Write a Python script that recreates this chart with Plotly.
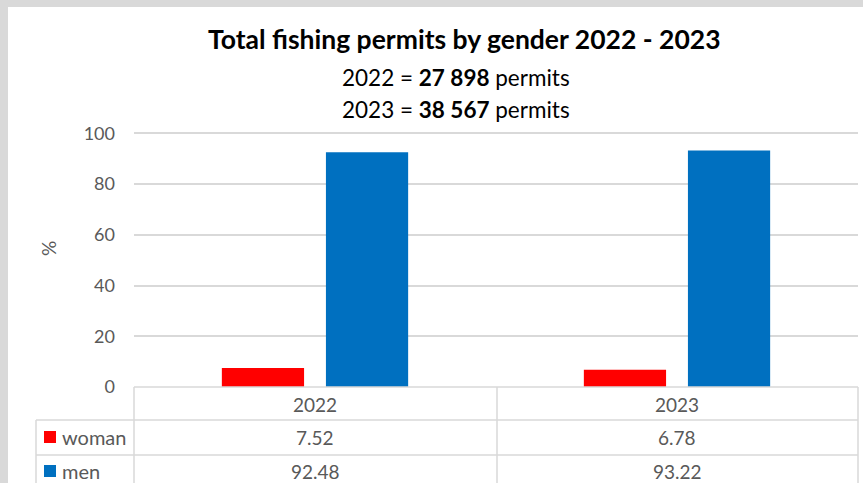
import plotly.graph_objects as go

# Data
years = ["2022", "2023"]
woman = [7.52, 6.78]
men = [92.48, 93.22]
totals = ["27 898", "38 567"]
series_names = ["woman", "men"]
series_colors = ["#FF0000", "#0070C0"]
y_ticks = [0, 20, 40, 60, 80, 100]

W, H = 863, 483
L, R, T, B = 134, 858, 132, 387  # plot area in pixels
FONT = "Lato"
GRAY_TXT = "#595959"
GRID = "#D9D9D9"


def px(x):
    return (x - L) / (R - L)


def py(y):
    return (B - y) / (B - T)


fig = go.Figure()
for name, vals, col in zip(series_names, [woman, men], series_colors):
    fig.add_trace(go.Bar(x=years, y=vals, name=name, marker_color=col,
                         marker_line_width=0, showlegend=False))

shapes = []
# document background strips
shapes.append(dict(type="rect", xref="paper", yref="paper", x0=px(0), x1=px(W), y0=py(0), y1=py(7),
                   fillcolor="#D9D9D9", line_width=0, layer="below"))
shapes.append(dict(type="rect", xref="paper", yref="paper", x0=px(0), x1=px(8), y0=py(0), y1=py(H),
                   fillcolor="#D9D9D9", line_width=0, layer="below"))


def hline(y, x0, x1):
    shapes.append(dict(type="line", xref="paper", yref="paper", x0=px(x0), x1=px(x1),
                       y0=py(y), y1=py(y), line=dict(color=GRID, width=1.5)))


def vline(x, y0, y1):
    shapes.append(dict(type="line", xref="paper", yref="paper", x0=px(x), x1=px(x),
                       y0=py(y0), y1=py(y1), line=dict(color=GRID, width=1.5)))


# data table grid
hline(387, L, R)
hline(420, 36, R)
hline(455, 36, R)
vline(L, 387, 490)
vline(497, 387, 490)
vline(R, 387, 490)
vline(36, 420, 490)

# legend keys in the table
row_centers = [437, 471]
for col, yc in zip(series_colors, row_centers):
    shapes.append(dict(type="rect", xref="paper", yref="paper", x0=px(44), x1=px(56),
                       y0=py(yc + 6), y1=py(yc - 6), fillcolor=col, line_width=0))

annotations = []
# title and subtitle
annotations.append(dict(text="<b>Total fishing permits by gender 2022 - 2023</b>", xref="paper", yref="paper",
                        x=px(464), y=py(39), xanchor="center", yanchor="middle", showarrow=False,
                        font=dict(family=FONT, size=26.5, color="#000000")))
for i, (yr, tot) in enumerate(zip(years, totals)):
    annotations.append(dict(text=f"{yr} = <b>{tot}</b> permits", xref="paper", yref="paper",
                            x=px(456), y=py(77 + 32 * i), xanchor="center", yanchor="middle", showarrow=False,
                            font=dict(family=FONT, size=22.5, color="#000000")))
# axis title
annotations.append(dict(text="%", xref="paper", yref="paper", x=px(48), y=py(249), textangle=-90,
                        xanchor="center", yanchor="middle", showarrow=False,
                        font=dict(family=FONT, size=19, color=GRAY_TXT)))
# table header and cells
for i, yr in enumerate(years):
    annotations.append(dict(text=yr, xref="x", yref="paper", x=i, y=py(404), xanchor="center",
                            yanchor="middle", showarrow=False, font=dict(family=FONT, size=19, color=GRAY_TXT)))
for name, vals, yc in zip(series_names, [woman, men], row_centers):
    annotations.append(dict(text=name, xref="paper", yref="paper", x=px(60), y=py(yc), xanchor="left",
                            yanchor="middle", showarrow=False, font=dict(family=FONT, size=20, color=GRAY_TXT)))
    for i, v in enumerate(vals):
        annotations.append(dict(text=f"{v:.2f}", xref="x", yref="paper", x=i, y=py(yc), xanchor="center",
                                yanchor="middle", showarrow=False,
                                font=dict(family=FONT, size=19, color=GRAY_TXT)))

fig.update_layout(
    width=W, height=H,
    margin=dict(l=L, r=W - R, t=T, b=H - B, pad=0),
    paper_bgcolor="white", plot_bgcolor="white",
    barmode="group", bargap=0.425, bargroupgap=0.21,
    shapes=shapes, annotations=annotations,
    xaxis=dict(type="category", range=[-0.5, 1.5], showticklabels=False, showgrid=False, showline=False,
               zeroline=False, automargin=False, fixedrange=True),
    yaxis=dict(range=[0, 100.5], tickvals=y_ticks, showgrid=True, gridcolor=GRID, gridwidth=1.5,
               zeroline=False, showline=False, ticks="", ticklabelstandoff=18,
               tickfont=dict(family=FONT, size=18, color=GRAY_TXT), automargin=False, fixedrange=True),
)

fig.write_html("out.html", config={"displayModeBar": False})
